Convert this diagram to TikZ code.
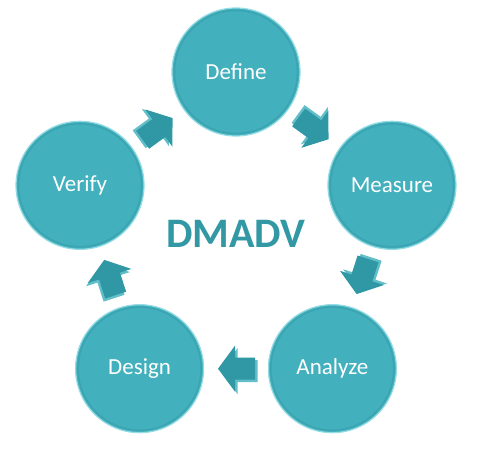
\documentclass[tikz,border=0pt]{standalone}
\usepackage{fontspec}
\setmainfont{Carlito}
\usetikzlibrary{calc}
\definecolor{circfill}{RGB}{66,176,189}
\definecolor{circrim}{RGB}{150,220,228}
\definecolor{circdark}{RGB}{52,150,162}
\definecolor{arrowfill}{RGB}{47,152,164}
\definecolor{arrowlight}{RGB}{98,190,200}
\definecolor{titlecol}{RGB}{50,152,164}
\tikzset{
  stagecircle/.style={circle, minimum size=128pt, inner sep=0pt, fill=circfill,
    draw=circrim, line width=1.2pt, text=white, font=\fontsize{23}{27}\selectfont},
  innerring/.style={circdark, line width=1.5pt, opacity=0.45},
  blockarrow/.pic={
    \fill[arrowlight] (-2.5,2.5) ++(18,0) -- ++(-17,23) -- ++(0,-12) -- ++(-20,0) -- ++(0,-22) -- ++(20,0) -- ++(0,-12) -- cycle;
    \fill[arrowfill] (18,0) -- (1,23) -- (1,11) -- (-19,11) -- (-19,-11) -- (1,-11) -- (1,-23) -- cycle;
  }
}
\begin{document}
\begin{tikzpicture}[x=1pt,y=1pt]
\useasboundingbox (0,0) rectangle (482,455);
\coordinate (ctr) at (236,219);
\node[stagecircle] (def) at ($(ctr)+(90:164)$) {Define};
\node[stagecircle] (mea) at ($(ctr)+(18:164)$) {Measure};
\node[stagecircle] (ana) at ($(ctr)+(-54:164)$) {Analyze};
\node[stagecircle] (des) at ($(ctr)+(-126:164)$) {Design};
\node[stagecircle] (ver) at ($(ctr)+(162:164)$) {Verify};
\foreach \n in {def,mea,ana,des,ver}{
  \draw[innerring] (\n.center) circle (61.5);
}
\node[text=titlecol, font=\fontsize{42}{48}\selectfont\bfseries] (title) at (236,221) {DMADV};
\path ($(def)!0.5!(mea)$) pic[rotate=-36] {blockarrow};
\path ($(mea)!0.5!(ana)$) pic[rotate=-108] {blockarrow};
\path ($(ana)!0.5!(des)$) pic[rotate=180] {blockarrow};
\path ($(des)!0.5!(ver)$) pic[rotate=108] {blockarrow};
\path ($(ver)!0.5!(def)$) pic[rotate=36] {blockarrow};
\end{tikzpicture}
\end{document}
